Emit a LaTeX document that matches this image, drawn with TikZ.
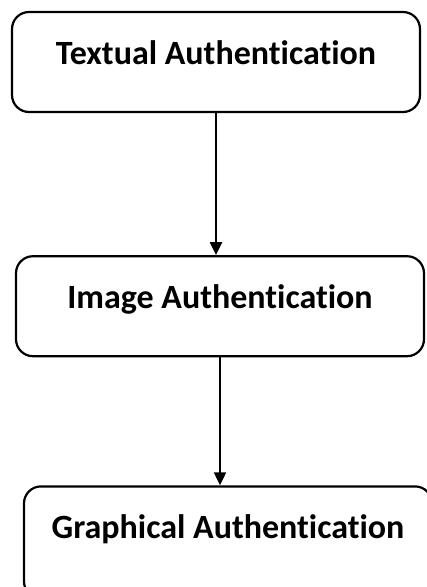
\documentclass[tikz,border=0pt]{standalone}
\usepackage{fontspec}
\setmainfont{Carlito}[Ligatures={NoCommon}]
\usepackage{tikz}
\usetikzlibrary{positioning,arrows.meta}

\begin{document}
\begin{tikzpicture}[
        node distance=140pt,
        box/.style={
            draw=black,
            line width=2.2pt,
            rounded corners=17pt,
            align=center,
            font=\fontsize{34}{40}\selectfont\bfseries,
            minimum width=408pt,
            text height=52pt,
            text depth=48pt,
            inner sep=0pt
        },
        arr/.style={-{Triangle[length=13pt,width=12pt]}, line width=2.2pt}
    ]
        \useasboundingbox (0pt,0pt) rectangle (427pt,-587pt);
        \node[box, anchor=base] (textual) at (216pt,-64pt) {Textual Authentication};
        \node[box, below=142pt of textual, xshift=4pt] (image) {Image Authentication};
        \node[box, below=128pt of image, xshift=8pt, text depth=60pt] (graphical) {Graphical Authentication};
        \draw[arr] (textual.south) -- (textual.south |- image.north);
        \draw[arr] (image.south) -- (image.south |- graphical.north);
    \end{tikzpicture}
\end{document}
